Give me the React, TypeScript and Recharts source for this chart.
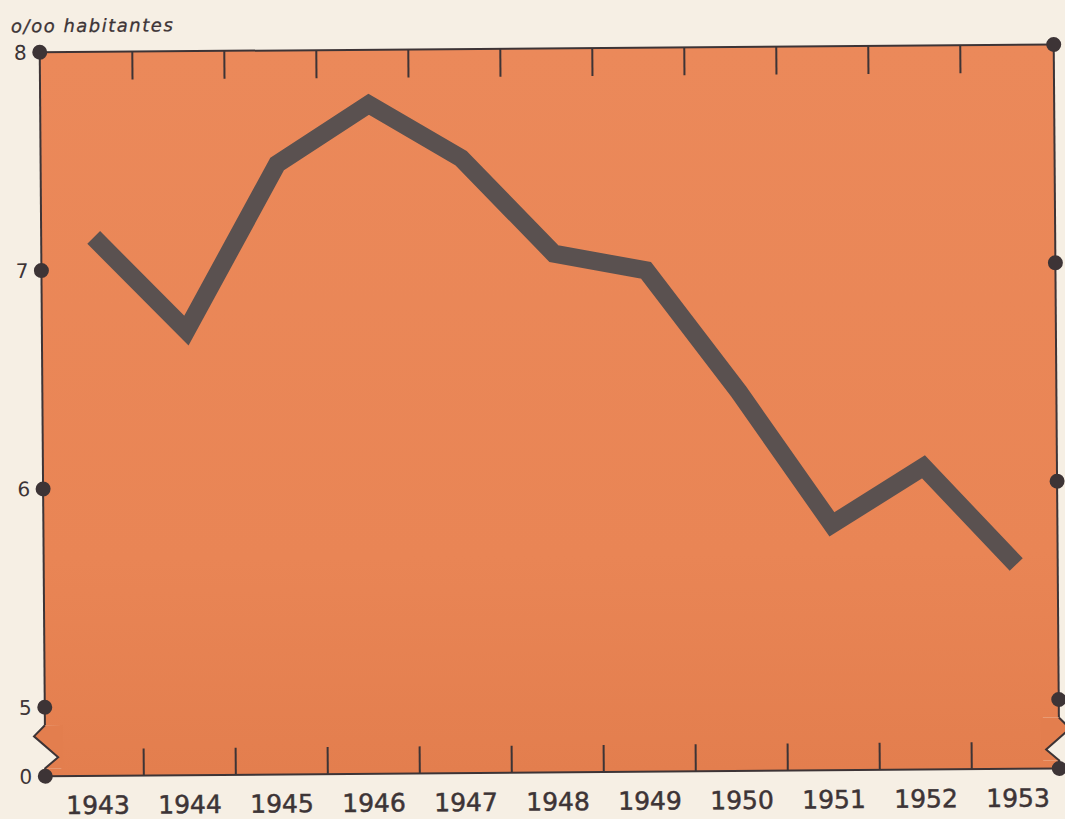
import React from "react";
import { LineChart, Line, XAxis, YAxis, CartesianGrid } from "recharts";

// ---- data ----
const years = [1943, 1944, 1945, 1946, 1947, 1948, 1949, 1950, 1951, 1952, 1953];
const rates = [7.15, 6.72, 7.48, 7.75, 7.5, 7.06, 6.98, 6.42, 5.81, 6.07, 5.62];
const yTickValues = [5, 6, 7, 8];
const Y_BREAK = 4.684; // position of the "0" tick under the axis break
const yBreakLabel = "0";
const unitLabel = "o/oo habitantes";

const data = years.map((year, i) => ({ year, rate: rates[i] }));
const halfYears = years.slice(0, -1).map((y) => y + 0.5);
const bottomTicks = [...years, ...halfYears].sort((a, b) => a - b);
const yTicks = [Y_BREAK, ...yTickValues];

// ---- styles ----
const CREAM = "#f6efe4";
const ORANGE_TOP = "#eb895a";
const ORANGE_BOTTOM = "#e37e4e";
const INK = "#3d3436";
const LINE = "#5a5150";
const FONT = "'DejaVu Sans', sans-serif";

const BottomTick = (props: any) => {
  const { x, y, payload } = props;
  const v = payload.value;
  if (Number.isInteger(v)) {
    return (
      <text
        x={x}
        y={y + 38}
        textAnchor="middle"
        fontFamily={FONT}
        fontSize={25}
        fill={INK}
        stroke={INK}
        strokeWidth={0.5}
      >
        {v}
      </text>
    );
  }
  return <line x1={x} y1={y} x2={x} y2={y - 27} stroke={INK} strokeWidth={2} />;
};

const TopTick = (props: any) => {
  const { x, y } = props;
  return <line x1={x} y1={y} x2={x} y2={y + 28} stroke={INK} strokeWidth={2} />;
};

const Zigzag = ({ x, y, dir }: { x: number; y: number; dir: number }) => {
  const p = (dx: number, dy: number) => `${x + dir * dx},${y + dy}`;
  const zig = [p(0, -51), p(-11, -40), p(13, -19), p(0, -8), p(0, 0)];
  return (
    <g>
      <rect
        x={dir > 0 ? x - 2 : x - 16}
        y={y - 51}
        width={18}
        height={43}
        fill={CREAM}
      />
      <polygon
        points={[p(0, -51), p(-11, -40), p(13, -19), p(0, -8), p(18, -8), p(18, -51)].join(" ")}
        fill={ORANGE_BOTTOM}
      />
      <polyline points={zig.join(" ")} fill="none" stroke={INK} strokeWidth={2} />
    </g>
  );
};

const LeftTick = (props: any) => {
  const { x, y, payload } = props;
  const v = payload.value;
  const isBreak = Math.abs(v - Y_BREAK) < 1e-6;
  return (
    <g>
      {isBreak && <Zigzag x={x} y={y} dir={1} />}
      <circle cx={x} cy={y} r={7.5} fill={INK} />
      <text
        x={x - 13}
        y={y}
        dy="0.36em"
        textAnchor="end"
        fontFamily={FONT}
        fontSize={20}
        fill={INK}
      >
        {isBreak ? yBreakLabel : v}
      </text>
    </g>
  );
};

const RightTick = (props: any) => {
  const { x, y, payload } = props;
  const isBreak = Math.abs(payload.value - Y_BREAK) < 1e-6;
  return (
    <g>
      {isBreak && <Zigzag x={x} y={y} dir={-1} />}
      <circle cx={x} cy={y} r={7.5} fill={INK} />
    </g>
  );
};

const UnitLabel = (props: any) => {
  const vb = props.viewBox || { x: 0, y: 48.5 };
  return (
    <text
      x={vb.x + 14}
      y={vb.y - 20}
      fontFamily={FONT}
      fontStyle="italic"
      fontSize={18}
      letterSpacing={1.5}
      fill={INK}
      stroke={INK}
      strokeWidth={0.3}
    >
      {unitLabel}
    </text>
  );
};

export default function App() {
  return (
    <div
      style={{
        width: 1065,
        height: 819,
        overflow: "hidden",
        background: CREAM,
        position: "relative",
      }}
    >
      <style>{`html,body{margin:0;padding:0;background:${CREAM};}`}</style>
      <div style={{ transform: "rotate(-0.44deg)", width: 1065, height: 819 }}>
        <LineChart
          width={1065}
          height={819}
          data={data}
          margin={{ top: 0, right: 0, bottom: 0, left: 0 }}
        >
          <defs>
            <linearGradient id="paper" x1="0" y1="0" x2="0" y2="1">
              <stop offset="0%" stopColor={ORANGE_TOP} />
              <stop offset="70%" stopColor="#e98555" />
              <stop offset="100%" stopColor={ORANGE_BOTTOM} />
            </linearGradient>
          </defs>
          <CartesianGrid horizontal={false} vertical={false} fill="url(#paper)" stroke="none" />
          <XAxis
            xAxisId="top"
            orientation="top"
            dataKey="year"
            type="number"
            domain={[1942.494, 1953.516]}
            allowDataOverflow
            ticks={halfYears}
            interval={0}
            height={48.5}
            tickSize={0}
            tickMargin={0}
            tickLine={false}
            tick={<TopTick />}
            axisLine={{ stroke: INK, strokeWidth: 2 }}
          />
          <XAxis
            xAxisId="bottom"
            orientation="bottom"
            dataKey="year"
            type="number"
            domain={[1942.429, 1953.451]}
            allowDataOverflow
            ticks={bottomTicks}
            interval={0}
            height={46.5}
            tickSize={0}
            tickMargin={0}
            tickLine={false}
            tick={<BottomTick />}
            axisLine={{ stroke: INK, strokeWidth: 2 }}
          />
          <YAxis
            yAxisId="left"
            orientation="left"
            type="number"
            domain={[Y_BREAK, 8]}
            allowDataOverflow
            ticks={yTicks}
            interval={0}
            width={42.5}
            tickSize={0}
            tickMargin={0}
            tickLine={false}
            tick={<LeftTick />}
            axisLine={{ stroke: INK, strokeWidth: 2 }}
            label={{ content: <UnitLabel /> }}
          />
          <YAxis
            yAxisId="right"
            orientation="right"
            type="number"
            domain={[Y_BREAK, 8]}
            allowDataOverflow
            ticks={yTicks}
            interval={0}
            width={8.5}
            tickSize={0}
            tickMargin={0}
            tickLine={false}
            tick={<RightTick />}
            axisLine={{ stroke: INK, strokeWidth: 2 }}
          />
          <Line
            xAxisId="bottom"
            yAxisId="left"
            type="linear"
            dataKey="rate"
            stroke={LINE}
            strokeWidth={18}
            strokeLinejoin="miter"
            strokeLinecap="butt"
            dot={false}
            activeDot={false}
            isAnimationActive={false}
          />
        </LineChart>
      </div>
    </div>
  );
}
